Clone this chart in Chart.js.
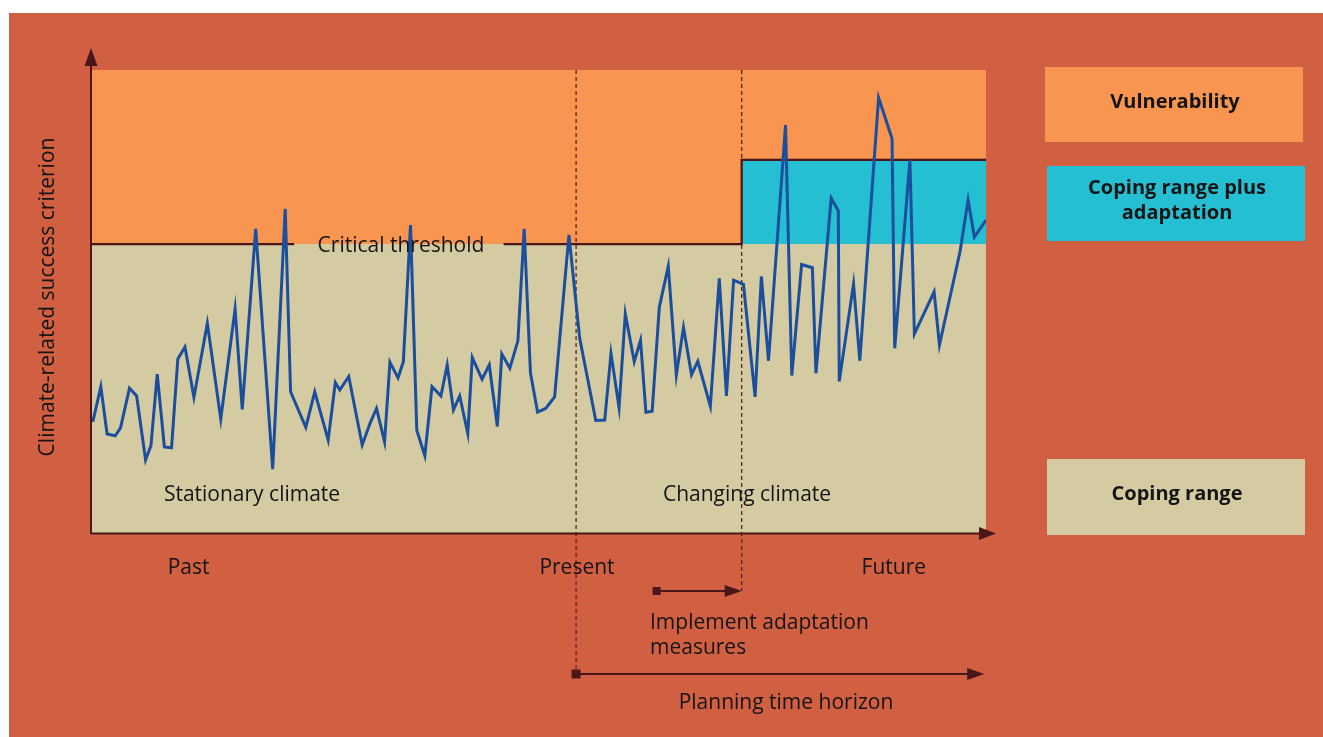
<!DOCTYPE html>
<html>
<head>
<meta charset="utf-8">
<script src="https://cdn.jsdelivr.net/npm/chart.js@4/dist/chart.umd.min.js"></script>
<style>
  html, body { margin: 0; padding: 0; background: #ffffff; width: 1323px; height: 737px; overflow: hidden; }
  #bg { position: absolute; left: 9px; top: 13px; width: 1314px; height: 724px; background: #D16043; }
  #c { position: absolute; left: 0; top: 0; }
</style>
</head>
<body>
<div id="bg"></div>
<canvas id="c" width="1323" height="737"></canvas>
<script>
// ---- Data (time 0..100, criterion 0..100) ----
const timeX = [0.2,1.1,1.8,2.7,3.3,4.3,5.1,6.1,6.7,7.4,8.2,9.0,9.7,10.5,11.5,13.0,14.5,16.1,16.9,18.4,
  20.3,21.7,22.3,24.0,25.0,26.5,27.3,27.8,28.8,30.3,31.2,31.9,32.8,33.4,34.3,34.9,35.7,36.4,37.3,38.1,
  39.1,39.8,40.5,41.2,42.1,42.6,43.7,44.5,45.4,45.9,46.8,47.7,48.4,49.1,49.9,50.8,51.8,53.4,54.6,56.4,
  57.4,58.1,59.0,59.7,60.7,61.4,62.0,62.7,63.5,64.5,65.4,66.2,67.1,67.8,69.2,70.2,71.0,71.8,72.9,74.2,
  74.9,75.7,77.6,78.3,79.4,80.6,81.0,82.7,83.5,83.6,85.2,85.9,88.0,89.5,89.8,91.5,92.0,94.2,94.8,97.1,
  98.0,98.7,100];
const criterionY = [24.0,31.6,21.4,21.0,22.7,31.3,29.6,15.8,18.9,34.3,18.6,18.4,37.6,40.2,29.3,45.3,24.6,48.4,26.7,65.7,
  13.8,70.0,30.5,22.8,30.5,20.1,32.5,30.9,33.8,19.0,23.8,26.9,19.7,36.9,33.5,37.0,66.5,22.2,16.7,31.6,
  29.6,36.3,26.6,29.6,21.5,37.9,33.2,36.3,23.0,38.7,35.6,41.5,65.7,34.6,26.1,26.9,29.4,64.4,42.1,24.3,
  24.4,38.8,27.1,47.3,37.0,41.6,26.1,26.3,48.8,57.6,34.1,44.4,34.2,37.1,27.4,55.0,29.6,54.6,53.7,29.4,
  55.4,37.2,88.1,34.0,58.0,57.3,34.5,72.3,69.6,32.7,53.8,37.2,94.0,85.2,39.9,80.6,43.0,52.1,40.6,60.8,
  71.9,63.9,67.6];

// zones
const copingX = [0, 100];
const copingTop = [62.4, 62.4];
const adaptX = [0, 72.7, 72.7, 100];
const adaptTop = [62.4, 62.4, 80.6, 80.6];
const vulnX = [0, 100];
const vulnTop = [100, 100];
// threshold line (gap where the label sits)
const thresholdX = [0, 22.7, 46.1, 72.7, 72.7, 100];
const thresholdY = [62.4, 62.4, 62.4, 62.4, 80.6, 80.6];

// time markers
const tickLabels = ['Past', 'Present', 'Future'];
const tickValues = [10.9, 54.3, 89.7];
const presentX = 54.2;
const adaptStartX = 72.7;
const implementStartX = 63.2;
const planningEndX = 99.8;

const legendLabels = ['Vulnerability', ['Coping range plus', 'adaptation'], 'Coping range'];

const C_ORANGE = '#F79551', C_CYAN = '#25BFD4', C_BEIGE = '#D5CBA3', C_DARK = '#4A1619',
      C_LINE = '#1B4F9E', C_TEXT = '#141414';

const pts = (xs, ys) => xs.map((x, i) => ({x, y: ys[i]}));

const annotations = {
  id: 'annotations',
  afterDatasetDraw(chart, args) {
    if (args.index !== 4) return;
    const ctx = chart.ctx, xs = chart.scales.x, ys = chart.scales.y;
    ctx.save();
    ctx.strokeStyle = '#5A2620';
    ctx.lineWidth = 1.3;
    ctx.setLineDash([4, 3]);
    ctx.beginPath();
    const px = xs.getPixelForValue(presentX);
    ctx.moveTo(px, ys.getPixelForValue(100)); ctx.lineTo(px, 674);
    const ax = xs.getPixelForValue(adaptStartX);
    ctx.moveTo(ax, ys.getPixelForValue(100)); ctx.lineTo(ax, 591);
    ctx.stroke();
    ctx.restore();
  },
  afterDraw(chart) {
    const ctx = chart.ctx, xs = chart.scales.x, ys = chart.scales.y, a = chart.chartArea;
    ctx.save();
    ctx.strokeStyle = C_DARK; ctx.fillStyle = C_DARK; ctx.lineWidth = 2;
    // y axis
    ctx.beginPath(); ctx.moveTo(a.left, a.bottom + 1); ctx.lineTo(a.left, 62); ctx.stroke();
    ctx.beginPath(); ctx.moveTo(a.left, 48); ctx.lineTo(a.left - 6.5, 66); ctx.lineTo(a.left + 6.5, 66); ctx.closePath(); ctx.fill();
    // x axis
    ctx.beginPath(); ctx.moveTo(a.left, a.bottom + 0.5); ctx.lineTo(982, a.bottom + 0.5); ctx.stroke();
    ctx.beginPath(); ctx.moveTo(996, a.bottom + 0.5); ctx.lineTo(979, a.bottom - 6); ctx.lineTo(979, a.bottom + 7); ctx.closePath(); ctx.fill();
    // implement arrow
    const ix0 = xs.getPixelForValue(implementStartX), ix1 = xs.getPixelForValue(adaptStartX);
    ctx.fillRect(ix0 - 4, 591 - 4, 8, 8);
    ctx.beginPath(); ctx.moveTo(ix0, 591); ctx.lineTo(ix1 - 14, 591); ctx.stroke();
    ctx.beginPath(); ctx.moveTo(ix1, 591); ctx.lineTo(ix1 - 17, 585); ctx.lineTo(ix1 - 17, 597); ctx.closePath(); ctx.fill();
    // planning arrow
    const px0 = xs.getPixelForValue(presentX), px1 = xs.getPixelForValue(planningEndX);
    ctx.fillRect(px0 - 4.5, 674 - 4.5, 9, 9);
    ctx.beginPath(); ctx.moveTo(px0, 674); ctx.lineTo(px1 - 14, 674); ctx.stroke();
    ctx.beginPath(); ctx.moveTo(px1, 674); ctx.lineTo(px1 - 17, 668); ctx.lineTo(px1 - 17, 680); ctx.closePath(); ctx.fill();

    // texts
    ctx.fillStyle = C_TEXT;
    ctx.font = '21px "Open Sans"';
    ctx.textAlign = 'center'; ctx.textBaseline = 'alphabetic';
    ctx.fillText('Critical threshold', 401, 251.5);
    ctx.fillText('Stationary climate', 252, 501);
    ctx.fillText('Changing climate', 747, 501);
    tickLabels.forEach((t, i) => ctx.fillText(t, xs.getPixelForValue(tickValues[i]), 574));
    ctx.fillText('Planning time horizon', 786, 709);
    ctx.textAlign = 'left';
    ctx.fillText('Implement adaptation', 650, 629);
    ctx.fillText('measures', 650, 653.5);
    // y title
    ctx.save();
    ctx.translate(48, 297); ctx.rotate(-Math.PI / 2);
    ctx.textAlign = 'center'; ctx.textBaseline = 'middle';
    ctx.fillText('Climate-related success criterion', 0, 0);
    ctx.restore();

    // legend boxes
    const boxes = [
      {x: 1045, y: 67, w: 258, h: 75, c: C_ORANGE, lines: [legendLabels[0]], base: [108]},
      {x: 1047, y: 166, w: 258, h: 75, c: C_CYAN, lines: legendLabels[1], base: [194, 219]},
      {x: 1047, y: 459, w: 258, h: 76, c: C_BEIGE, lines: [legendLabels[2]], base: [500]},
    ];
    ctx.font = 'bold 20px "Open Sans"';
    ctx.textAlign = 'center';
    boxes.forEach(b => {
      ctx.fillStyle = b.c; ctx.fillRect(b.x, b.y, b.w, b.h);
      ctx.fillStyle = C_TEXT;
      b.lines.forEach((l, i) => ctx.fillText(l, b.x + b.w / 2 + 1, b.base[i]));
    });
    ctx.restore();
  }
};

new Chart(document.getElementById('c'), {
  type: 'line',
  data: {
    datasets: [
      { label: 'Climate-related success criterion', data: pts(timeX, criterionY), borderColor: C_LINE, borderWidth: 3,
        pointRadius: 0, fill: false, tension: 0, order: 0, borderJoinStyle: 'miter' },
      { label: 'Critical threshold', data: pts(thresholdX, thresholdY), borderColor: C_DARK, borderWidth: 2.2,
        pointRadius: 0, fill: false, order: 1,
        segment: { borderColor: c => c.p0DataIndex === 1 ? 'rgba(0,0,0,0)' : C_DARK } },
      { label: 'Coping range', data: pts(copingX, copingTop), borderWidth: 0, borderColor: 'rgba(0,0,0,0)',
        backgroundColor: C_BEIGE, pointRadius: 0, fill: 'origin', order: 4 },
      { label: 'Coping range plus adaptation', data: pts(adaptX, adaptTop), borderWidth: 0, borderColor: 'rgba(0,0,0,0)',
        backgroundColor: C_CYAN, pointRadius: 0, fill: '-1', order: 3 },
      { label: 'Vulnerability', data: pts(vulnX, vulnTop), borderWidth: 0, borderColor: 'rgba(0,0,0,0)',
        backgroundColor: C_ORANGE, pointRadius: 0, fill: '-1', order: 2 },
    ]
  },
  options: {
    responsive: false,
    animation: false,
    devicePixelRatio: 1,
    layout: { padding: { left: 91, top: 70, right: 337, bottom: 204 } },
    plugins: { legend: { display: false }, tooltip: { enabled: false }, title: { display: false } },
    scales: {
      x: { type: 'linear', min: 0, max: 100, display: false },
      y: { type: 'linear', min: 0, max: 100, display: false }
    },
    elements: { line: { capBezierPoints: false } }
  },
  plugins: [annotations]
});
</script>
</body>
</html>
